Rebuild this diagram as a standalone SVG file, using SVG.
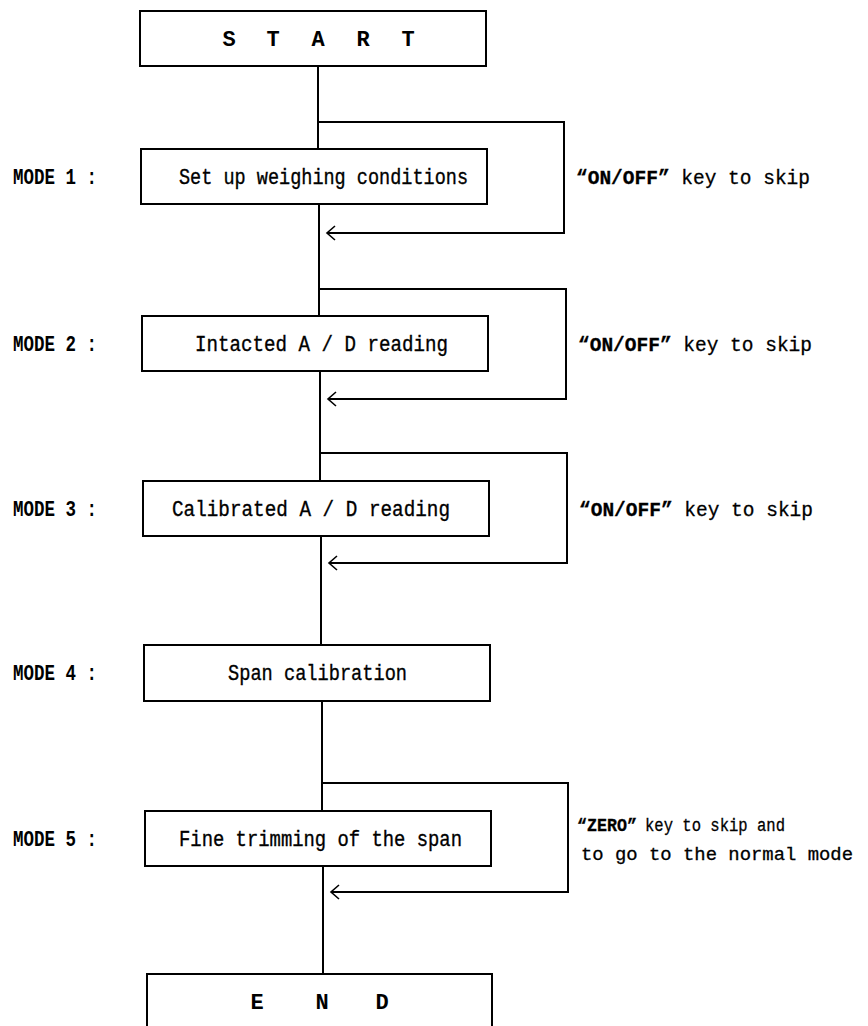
<svg xmlns="http://www.w3.org/2000/svg" width="868" height="1026" viewBox="0 0 868 1026">
<style>
  .box { fill: #fff; stroke: #000; stroke-width: 2; }
  .ln { fill: none; stroke: #000; stroke-width: 2; }
  .t { font-family: "Liberation Mono", "DejaVu Sans Mono", monospace; font-size: 22px; fill: #000; }
  .bt { text-anchor: start; stroke: #000; stroke-width: 0.35; }
  .lbl { font-weight: bold; }
  .rl { font-size: 21px; stroke: #000; stroke-width: 0.3; }
  .rs { font-size: 19px; stroke: #000; stroke-width: 0.3; }
  .big { font-weight: bold; text-anchor: middle; }
</style>
<defs>
  <marker id="open" markerUnits="userSpaceOnUse" markerWidth="20" markerHeight="20" refX="0" refY="0" orient="auto" overflow="visible">
    <path d="M-8,-7 L0,0 L-8,7" fill="none" stroke="#000" stroke-width="1.6"/>
  </marker>
</defs>
<rect width="868" height="1026" fill="#fff"/>

<g id="connectors">
  <line class="ln" x1="318" y1="66" x2="318" y2="149"/>
  <line class="ln" x1="319" y1="204" x2="319" y2="316"/>
  <line class="ln" x1="320" y1="371" x2="320" y2="481"/>
  <line class="ln" x1="321" y1="536" x2="321" y2="645"/>
  <line class="ln" x1="322" y1="701" x2="322" y2="811"/>
  <line class="ln" x1="323" y1="866" x2="323" y2="974"/>
  <path class="ln" d="M318,122 H564 V233 H327" marker-end="url(#open)"/>
  <path class="ln" d="M319,289 H566 V399 H328" marker-end="url(#open)"/>
  <path class="ln" d="M320,453 H567 V563 H329" marker-end="url(#open)"/>
  <path class="ln" d="M322,783 H568 V892 H331" marker-end="url(#open)"/>
</g>

<g id="start">
  <rect class="box" x="140" y="11" width="346" height="55"/>
  <text class="t big" y="46"><tspan x="229">S</tspan><tspan x="273">T</tspan><tspan x="318">A</tspan><tspan x="363">R</tspan><tspan x="408">T</tspan></text>
</g>

<g id="mode1">
  <text class="t lbl" x="13" y="184" textLength="84" lengthAdjust="spacingAndGlyphs">MODE 1 :</text>
  <rect class="box" x="141" y="149" width="346" height="55"/>
  <text class="t bt" x="179" y="184" textLength="289" lengthAdjust="spacingAndGlyphs">Set up weighing conditions</text>
  <text class="t rl" x="576" y="184" textLength="234" lengthAdjust="spacingAndGlyphs"><tspan font-weight="bold">“ON/OFF”</tspan> key to skip</text>
</g>

<g id="mode2">
  <text class="t lbl" x="13" y="351" textLength="84" lengthAdjust="spacingAndGlyphs">MODE 2 :</text>
  <rect class="box" x="142" y="316" width="346" height="55"/>
  <text class="t bt" x="195" y="351" textLength="253" lengthAdjust="spacingAndGlyphs">Intacted A / D reading</text>
  <text class="t rl" x="578" y="351" textLength="234" lengthAdjust="spacingAndGlyphs"><tspan font-weight="bold">“ON/OFF”</tspan> key to skip</text>
</g>

<g id="mode3">
  <text class="t lbl" x="13" y="516" textLength="84" lengthAdjust="spacingAndGlyphs">MODE 3 :</text>
  <rect class="box" x="143" y="481" width="346" height="55"/>
  <text class="t bt" x="172" y="516" textLength="278" lengthAdjust="spacingAndGlyphs">Calibrated A / D reading</text>
  <text class="t rl" x="579" y="516" textLength="234" lengthAdjust="spacingAndGlyphs"><tspan font-weight="bold">“ON/OFF”</tspan> key to skip</text>
</g>

<g id="mode4">
  <text class="t lbl" x="13" y="680" textLength="84" lengthAdjust="spacingAndGlyphs">MODE 4 :</text>
  <rect class="box" x="144" y="645" width="346" height="56"/>
  <text class="t bt" x="228" y="680" textLength="179" lengthAdjust="spacingAndGlyphs">Span calibration</text>
</g>

<g id="mode5">
  <text class="t lbl" x="13" y="846" textLength="84" lengthAdjust="spacingAndGlyphs">MODE 5 :</text>
  <rect class="box" x="145" y="811" width="346" height="55"/>
  <text class="t bt" x="179" y="846" textLength="283" lengthAdjust="spacingAndGlyphs">Fine trimming of the span</text>
  <text class="t rs" x="577" y="831" font-weight="bold" textLength="60" lengthAdjust="spacingAndGlyphs">“ZERO”</text>
  <text class="t rs" x="645" y="831" textLength="140" lengthAdjust="spacingAndGlyphs">key to skip and</text>
  <text class="t rs" x="581" y="860" textLength="272" lengthAdjust="spacingAndGlyphs">to go to the normal mode</text>
</g>

<g id="end">
  <path class="ln" d="M147,1030 V974 H492 V1030"/>
  <text class="t big" y="1009"><tspan x="257">E</tspan><tspan x="322">N</tspan><tspan x="382">D</tspan></text>
</g>
</svg>
